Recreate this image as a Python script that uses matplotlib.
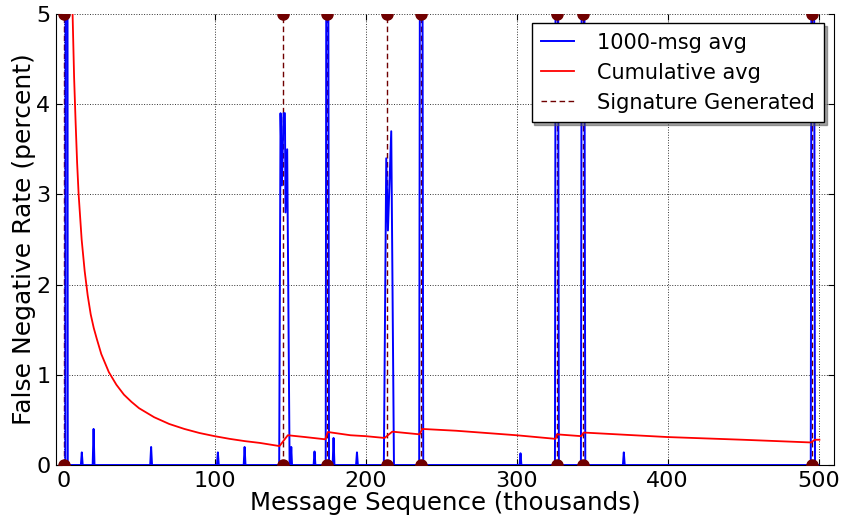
import matplotlib
matplotlib.use("Agg")
import matplotlib.pyplot as plt

# 1000-msg average (percent) vs message sequence (thousands)
blue_x = [0, 1.2, 2.0, 2.8, 11.5, 12.1, 12.7, 19.3, 19.9, 20.5, 57.4, 58.0, 58.6,
          101.6, 102.2, 102.8, 119.3, 119.9, 120.5,
          142.8, 143.7, 144.6, 145.7, 146.6, 147.0, 148.1, 149.7,
          150.3, 150.8, 151.3, 165.6, 166.2, 166.8,
          173.6, 174.6, 175.8, 178.2, 178.8, 179.4, 193.7, 194.3, 194.9,
          212.1, 213.7, 214.8, 217.0, 218.8,
          235.5, 236.8, 238.2, 302.0, 302.6, 303.2,
          325.4, 326.6, 328.0, 342.6, 343.9, 345.5, 370.4, 371.0, 371.6,
          494.8, 496.0, 497.6, 500.0]
blue_y = [0, 0, 28.0, 0, 0, 0.14, 0, 0, 0.40, 0, 0, 0.20, 0,
          0, 0.14, 0, 0, 0.20, 0,
          0, 3.9, 3.1, 3.9, 3.9, 2.8, 3.5, 0,
          0, 0.20, 0, 0, 0.15, 0,
          0, 14.0, 0, 0, 0.30, 0, 0, 0.14, 0,
          0, 3.4, 2.6, 3.7, 0,
          0, 15.0, 0, 0, 0.13, 0,
          0, 16.0, 0, 0, 14.0, 0, 0, 0.14, 0,
          0, 15.0, 0, 0]

# Cumulative average (percent)
red_x = [3, 4, 5, 6, 7, 8, 9, 10, 12, 14, 16, 18, 20, 22, 25, 30, 35, 40, 45, 50,
         60, 70, 80, 90, 100, 110, 120, 130, 143, 148.5, 160, 173.3, 175, 190, 200,
         212.6, 217.7, 235.8, 237.5, 260, 300, 325.8, 326.7, 342.8, 344.4, 400, 450,
         495, 497.4, 500.5]
red_y = [10.0, 7.6, 6.1, 5.0, 4.3, 3.8, 3.35, 3.0, 2.5, 2.15, 1.88, 1.67, 1.52, 1.40,
         1.23, 1.03, 0.89, 0.78, 0.70, 0.63, 0.53, 0.455, 0.40, 0.355, 0.32, 0.29,
         0.265, 0.245, 0.21, 0.33, 0.31, 0.285, 0.366, 0.33, 0.32, 0.30, 0.37, 0.34,
         0.40, 0.38, 0.33, 0.29, 0.34, 0.32, 0.36, 0.31, 0.28, 0.25, 0.28, 0.28]

# Signature generation points (thousands)
sig_x = [0, 145.2, 174.4, 214.3, 236.9, 326.7, 343.9, 495.8]

x_ticks = [0, 100, 200, 300, 400, 500]
y_ticks = [0, 1, 2, 3, 4, 5]

fig = plt.figure(figsize=(8.43, 5.16), dpi=100)
ax = fig.add_axes([0.0664, 0.0988, 0.9226, 0.8741])

sig_color = "#700000"
for i, sx in enumerate(sig_x):
    ax.plot([sx, sx], [0, 5], linestyle="--", dashes=(4, 2.5), color=sig_color,
            linewidth=1.0, label="Signature Generated" if i == 0 else None, zorder=2)
ax.plot(blue_x, blue_y, color="#0000ff", linewidth=1.4, label="1000-msg avg", zorder=3)
ax.plot(red_x, red_y, color="#ff0000", linewidth=1.3, label="Cumulative avg", zorder=3)
ax.plot(sig_x, [0] * len(sig_x), "o", color=sig_color, markersize=8, zorder=4)
ax.plot(sig_x, [5] * len(sig_x), "o", color=sig_color, markersize=8, zorder=4)

ax.set_xlim(-5, 510)
ax.set_ylim(0, 5)
ax.set_xticks(x_ticks)
ax.set_yticks(y_ticks)
ax.grid(True, color="#333333", linestyle=":", linewidth=0.7)
ax.spines["top"].set_visible(False)
ax.tick_params(direction="in", top=True, right=True, length=4, labelsize=16, pad=4)
ax.set_xlabel("Message Sequence (thousands)", fontsize=17.6, labelpad=0)
ax.set_ylabel("False Negative Rate (percent)", fontsize=18, labelpad=0)

h, l = ax.get_legend_handles_labels()
order = [l.index("1000-msg avg"), l.index("Cumulative avg"), l.index("Signature Generated")]
leg = ax.legend([h[i] for i in order], [l[i] for i in order], loc="upper right",
                fontsize=15, shadow=True, fancybox=False, framealpha=1,
                handlelength=1.6, labelspacing=0.48, borderaxespad=0.45,
                handletextpad=1.1, borderpad=0.45)
leg.get_frame().set_edgecolor("black")
leg.get_frame().set_linewidth(1.0)

fig.savefig("out.png", dpi=100)
